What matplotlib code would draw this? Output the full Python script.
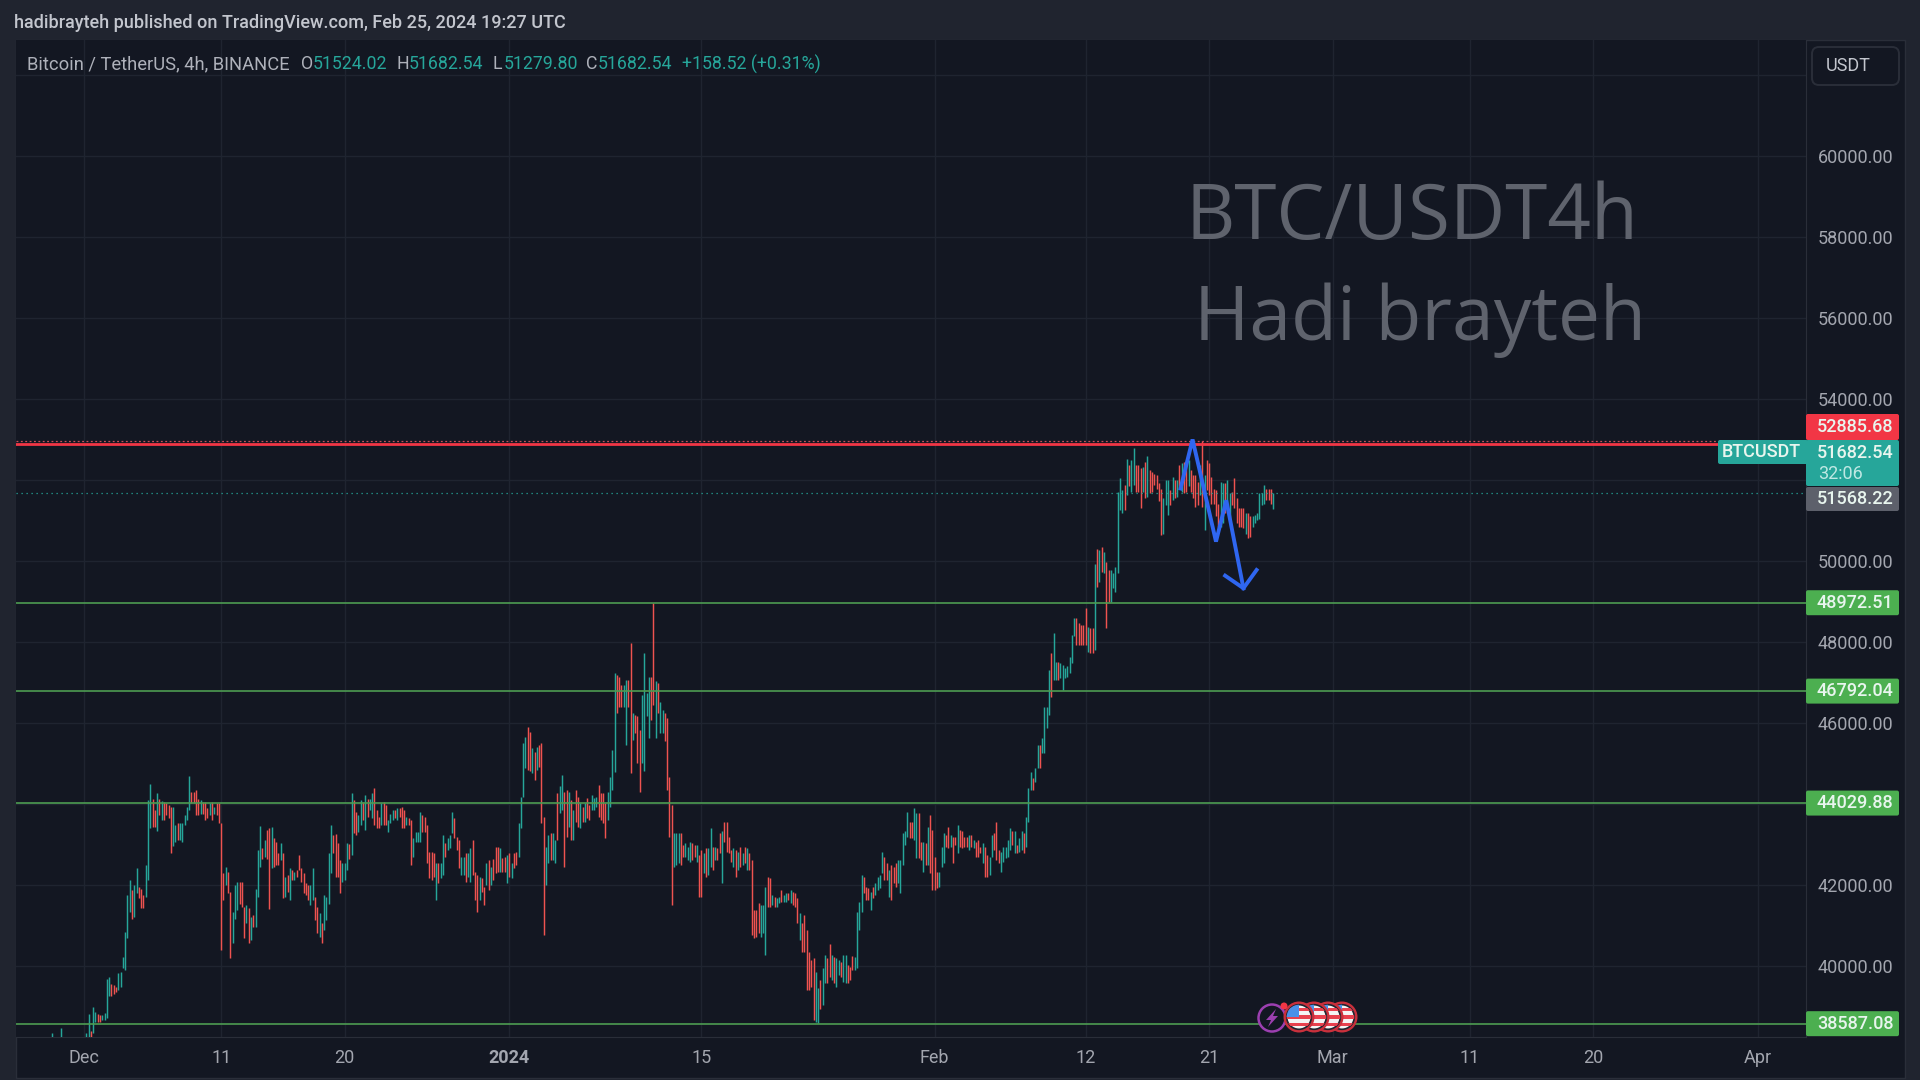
#!/usr/bin/env python3
# plot.py
# BTC/USDT 4h candles with horizontal levels, dark TradingView look
# prices are read off the picture, in thousands, one row per day (6 candles)

import matplotlib
matplotlib.use("Agg")
import matplotlib.pyplot as plt
import matplotlib.patches as mpatches
import numpy as np
import pandas as pd

highs = [
    37.3, 37.5, 37.8, 38.0, 38.36, 38.1,
    38.1, 37.9, 38.47, 38.0, 38.0, 37.9,
    37.8, 37.9, 37.9, 37.8, 38.0, 38.1,
    # Dec
    38.2, 38.35, 38.83, 38.4, 38.99, 38.87,
    38.83, 38.80, 38.80, 38.86, 39.70, 39.73,
    39.56, 39.54, 39.50, 39.83, 39.87, 40.24,
    40.85, 41.76, 42.13, 41.88, 42.00, 42.42,
    41.97, 41.92, 41.76, 42.50, 44.10, 44.50,
    44.12, 43.86, 44.28, 44.14, 44.09, 44.06,
    44.02, 43.98, 43.94, 43.94, 43.49, 43.53,
    43.53, 43.53, 43.73, 43.94, 44.70, 44.31,
    44.31, 44.35, 44.14, 44.10, 44.06, 44.06,
    43.90, 44.02, 44.06, 43.94, 44.02, 44.02,
    43.53, 42.30, 42.46, 42.34, 41.84, 41.35,
    42.01, 42.09, 42.09, 42.09, 41.47, 41.51,
    41.43, 41.23, 41.27, 41.92, 42.87, 43.46,
    42.91, 43.12, 43.36, 43.41, 43.43, 43.16,
    43.08, 42.79, 43.04, 42.79, 42.21, 42.25,
    42.42, 42.38, 42.34, 42.38, 42.75, 42.42,
    42.30, 42.05, 42.01, 42.01, 42.42, 41.72,
    41.47, 41.31, 41.06, 41.76, 41.72, 42.79,
    43.49, 43.24, 43.26, 43.04, 42.62, 42.54,
    42.54, 43.04, 43.02, 44.28, 44.10, 43.82,
    43.73, 44.10, 44.06, 44.23, 44.14, 44.14,
    44.27, 44.39, 43.86, 43.69, 44.02, 44.06,
    43.98, 43.61, 43.77, 43.86, 43.86, 43.90,
    43.90, 43.94, 43.86, 43.69, 43.65, 43.61,
    43.16, 43.32, 43.32, 43.82, 43.73, 43.69,
    43.49, 42.83, 42.83, 42.79, 42.54, 42.54,
    42.54, 43.24, 43.04, 43.16, 43.24, 43.82,
    43.65, 43.20, 43.12, 42.71, 42.71, 42.79,
    42.79, 42.91, 43.12, 42.34, 42.25, 42.21,
    42.17, 41.97, 42.54, 42.62, 42.46, 42.66,
    42.95, 42.95, 42.91, 42.67, 42.71, 42.75,
    # Jan
    42.79, 42.54, 42.79, 42.83, 43.53, 44.19,
    45.50, 45.67, 45.90, 45.79, 45.38, 45.30,
    45.42, 45.46, 45.50, 43.69, 42.95, 43.24,
    43.28, 43.28, 43.12, 44.27, 44.44, 44.72,
    44.31, 44.35, 44.31, 44.11, 43.86, 44.35,
    44.19, 44.02, 43.94, 44.02, 44.15, 43.98,
    44.23, 44.15, 44.19, 44.48, 44.27, 44.27,
    44.02, 44.31, 44.68, 45.34, 47.23, 47.19,
    47.15, 46.94, 46.94, 47.07, 47.07, 47.97,
    46.25, 46.21, 46.17, 45.83, 46.70, 47.72,
    46.74, 47.15, 47.15, 48.96, 47.03, 46.99,
    46.53, 46.33, 46.25, 46.12, 44.68, 43.98,
    43.28, 43.28, 43.28, 43.28, 42.99, 43.04,
    42.95, 43.08, 43.04, 42.99, 42.99, 42.75,
    42.87, 42.79, 42.91, 42.91, 43.41, 42.95,
    42.95, 42.91, 43.28, 43.33, 43.57, 43.57,
    43.20, 42.87, 42.91, 42.87, 42.83, 42.95,
    42.79, 42.95, 42.91, 42.79, 42.63, 41.39,
    41.39, 41.56, 41.52, 41.52, 41.97, 42.21,
    42.17, 41.76, 41.72, 41.68, 41.72, 41.88,
    41.76, 41.80, 41.80, 41.88, 41.84, 41.80,
    41.68, 41.31, 41.06, 41.27, 40.90, 40.36,
    40.16, 40.20, 39.87, 39.46, 39.66, 39.95,
    40.28, 40.20, 40.55, 40.28, 40.24, 40.20,
    40.16, 40.12, 40.28, 40.28, 40.03, 39.99,
    40.26, 40.24, 41.35, 41.60, 42.25, 42.21,
    41.97, 41.93, 41.84, 41.97, 42.05, 42.21,
    42.25, 42.83, 42.71, 42.54, 42.38, 42.50,
    42.46, 42.54, 42.63, 42.63, 43.28, 43.33,
    43.80, 43.57, 43.57, 43.90, 43.78, 43.78,
    43.08, 43.08, 43.04, 43.45, 43.73, 43.37,
    # Feb
    42.71, 42.34, 42.34, 42.95, 43.28, 43.24,
    43.45, 43.24, 43.20, 43.20, 43.49, 43.37,
    43.33, 43.20, 43.20, 43.24, 43.24, 43.12,
    43.08, 43.12, 42.95, 43.04, 42.95, 42.75,
    42.71, 43.24, 43.28, 43.57, 42.87, 42.83,
    42.95, 42.95, 43.12, 43.41, 43.33, 43.33,
    43.00, 43.16, 43.33, 43.28, 43.69, 44.39,
    44.80, 44.64, 44.89, 45.46, 45.46, 45.63,
    46.41, 46.41, 47.31, 47.72, 48.22, 47.52,
    47.52, 47.48, 47.44, 47.35, 47.40, 47.64,
    48.18, 48.59, 48.59, 48.46, 48.42, 48.42,
    48.83, 48.38, 48.34, 48.34, 49.94, 50.31,
    50.27, 50.35, 50.23, 49.98, 49.78, 49.78,
    49.70, 49.86, 51.71, 52.04, 51.75, 51.88,
    52.51, 52.37, 52.49, 52.80, 52.37, 52.37,
    52.29, 52.33, 52.45, 52.58, 52.25, 52.20,
    52.16, 52.12, 51.92, 51.79, 51.55, 52.00,
    52.00, 51.75, 52.08, 52.00, 52.00, 52.37,
    52.41, 52.45, 52.45, 52.49, 52.25, 52.12,
    52.12, 51.96, 52.37, 52.97, 52.12, 52.49,
    52.41, 52.08, 51.79, 51.75, 51.42, 51.96,
    51.92, 51.92, 52.00, 51.67, 51.71, 52.04,
    51.55, 51.30, 51.30, 51.30, 51.18, 51.18,
    51.10, 51.10, 51.14, 51.18, 51.67, 51.67,
    51.88, 51.79, 51.79, 51.79, 51.68,
]

lows = [
    37.0, 37.2, 37.4, 37.6, 37.8, 37.7,
    37.7, 37.6, 37.7, 37.6, 37.5, 37.5,
    37.5, 37.5, 37.6, 37.5, 37.6, 37.7,
    # Dec
    37.9, 37.9, 38.2, 38.1, 38.35, 38.63,
    38.64, 38.64, 38.68, 38.68, 38.72, 39.27,
    39.27, 39.33, 39.37, 39.41, 39.50, 39.95,
    39.91, 40.69, 41.35, 41.16, 41.23, 41.80,
    41.68, 41.43, 41.43, 41.72, 42.13, 43.41,
    43.45, 43.45, 43.35, 43.73, 43.61, 43.61,
    43.73, 43.65, 42.80, 42.97, 43.08, 43.12,
    43.12, 43.08, 43.49, 43.61, 43.86, 44.02,
    44.02, 43.73, 43.73, 43.77, 43.77, 43.61,
    43.65, 43.73, 43.61, 43.77, 43.73, 43.53,
    40.40, 41.64, 42.01, 41.80, 40.20, 40.57,
    41.18, 41.39, 41.55, 41.47, 40.69, 41.06,
    40.57, 40.65, 40.98, 40.98, 41.72, 42.46,
    42.66, 42.71, 42.66, 41.41, 42.42, 42.46,
    42.50, 42.50, 42.62, 41.68, 41.72, 41.84,
    41.64, 42.13, 42.13, 42.21, 42.38, 42.09,
    41.80, 41.76, 41.64, 41.51, 41.64, 41.14,
    40.82, 40.73, 40.57, 40.90, 41.14, 41.55,
    42.30, 42.79, 42.21, 42.21, 41.80, 42.09,
    42.13, 42.38, 42.66, 42.75, 43.28, 43.24,
    43.32, 43.49, 43.61, 43.36, 43.69, 43.86,
    43.65, 43.49, 43.41, 43.41, 43.49, 43.49,
    43.49, 43.32, 43.53, 43.61, 43.65, 43.61,
    43.69, 43.41, 43.41, 43.49, 43.49, 42.50,
    42.71, 43.08, 43.08, 43.08, 43.32, 43.32,
    42.54, 42.17, 42.13, 42.21, 41.64, 42.05,
    42.17, 42.25, 42.71, 42.87, 42.91, 43.28,
    43.16, 42.87, 42.42, 42.25, 42.25, 42.09,
    42.21, 42.09, 42.25, 41.64, 41.35, 41.64,
    41.84, 41.51, 42.01, 41.88, 42.01, 42.13,
    42.30, 42.34, 42.34, 42.34, 42.34, 42.05,
    # Jan
    42.21, 42.17, 42.42, 42.50, 42.71, 43.41,
    44.19, 44.89, 44.85, 44.81, 44.78, 44.60,
    44.85, 44.93, 43.53, 40.78, 42.01, 42.54,
    42.63, 42.63, 42.54, 43.12, 43.78, 43.86,
    42.46, 43.20, 43.45, 43.12, 43.12, 43.57,
    43.45, 43.41, 43.57, 43.57, 43.65, 43.61,
    43.86, 43.86, 43.94, 43.69, 43.61, 43.53,
    43.16, 43.61, 43.94, 44.35, 44.80, 46.25,
    46.41, 46.41, 46.41, 45.46, 46.41, 44.76,
    45.59, 45.75, 45.01, 44.31, 45.01, 44.81,
    46.17, 45.63, 46.08, 46.45, 45.63, 46.25,
    45.75, 45.75, 45.55, 44.35, 43.20, 41.52,
    42.46, 42.50, 42.54, 42.50, 42.71, 42.71,
    42.63, 42.58, 42.63, 42.71, 42.58, 41.72,
    41.72, 42.30, 42.21, 42.25, 42.46, 42.38,
    42.63, 42.63, 42.79, 42.05, 43.08, 42.83,
    42.79, 42.58, 42.46, 42.21, 42.38, 42.46,
    42.50, 42.54, 42.38, 42.38, 40.78, 40.70,
    40.73, 40.82, 40.73, 40.82, 40.28, 41.47,
    41.47, 41.52, 41.47, 41.47, 41.56, 41.60,
    41.60, 41.60, 41.64, 41.56, 41.52, 41.47,
    41.06, 40.65, 40.36, 40.36, 39.42, 39.42,
    39.50, 38.68, 38.64, 38.60, 38.96, 39.05,
    39.58, 39.58, 39.74, 39.66, 39.58, 39.50,
    39.79, 39.74, 39.62, 39.58, 39.58, 39.66,
    39.91, 39.91, 39.95, 40.90, 41.35, 41.80,
    41.64, 41.64, 41.39, 41.68, 41.76, 41.88,
    41.93, 42.30, 42.13, 42.13, 41.72, 41.64,
    42.05, 41.97, 42.05, 41.81, 42.50, 43.00,
    43.20, 43.16, 43.16, 43.12, 42.67, 42.67,
    42.63, 42.34, 42.50, 42.50, 42.30, 41.89,
    # Feb
    41.89, 41.93, 41.97, 42.46, 42.54, 42.95,
    42.91, 42.95, 42.54, 43.00, 42.79, 42.95,
    42.91, 42.95, 42.95, 42.87, 42.95, 42.91,
    42.71, 42.71, 42.79, 42.54, 42.21, 42.21,
    42.25, 42.71, 42.87, 42.63, 42.54, 42.34,
    42.58, 42.67, 42.71, 42.87, 43.00, 42.79,
    42.79, 42.83, 42.87, 42.79, 42.95, 43.57,
    44.35, 44.35, 44.56, 44.89, 44.89, 45.26,
    45.26, 45.87, 46.20, 46.65, 47.07, 47.07,
    47.07, 47.11, 46.82, 47.11, 47.15, 47.23,
    47.48, 48.14, 47.93, 47.93, 47.93, 47.93,
    47.93, 47.76, 47.72, 47.72, 47.81, 49.37,
    49.49, 49.74, 49.70, 48.34, 49.00, 49.00,
    49.33, 49.24, 49.70, 51.26, 51.18, 51.26,
    51.63, 51.84, 51.71, 51.88, 51.71, 51.71,
    51.30, 51.71, 51.55, 51.59, 51.67, 51.71,
    51.88, 51.79, 51.47, 50.64, 50.68, 51.38,
    51.14, 51.38, 51.51, 51.55, 51.59, 51.79,
    51.71, 51.67, 51.71, 51.84, 51.71, 51.55,
    51.34, 51.38, 51.63, 51.34, 50.77, 51.75,
    51.63, 51.42, 51.42, 51.10, 50.85, 50.85,
    50.93, 51.18, 51.26, 50.97, 51.38, 51.30,
    50.93, 50.85, 50.85, 50.81, 50.68, 50.56,
    50.60, 50.85, 50.93, 51.01, 51.05, 51.38,
    51.42, 51.51, 51.51, 51.42, 51.28,
]

# u = teal candle, d = red candle
moves = (
    "uuuuuu" "uduuud" "uuduuu"
    "uuuduu" "dduuuu" "ddduuu" "uuuduu" "ddduuu" "ddudud" "ddduud"
    "uuuuud" "dddudd" "dududd" "dduddu" "uudddu" "duduuu" "duddud"
    "ddudud" "ududdd" "ddduud" "duduuu" "uddddu" "uududd" "uududu"
    "udddud" "duuudu" "dddudd" "uuuudd" "ddddud" "uuduuu" "ddduud"
    "uudddu" "ddudud" "dduddu"
    "dudduu" "uuddud" "uddduu" "duuduu" "ddudud" "dududd" "uuuddd"
    "duuuud" "dduudd" "uddduu" "uuddud" "uudddd" "uuuddu" "uuddud"
    "duduud" "uddudd" "ddudud" "ududdd" "dduuud" "duduud" "uududd"
    "dudddd" "dduudu" "uddudu" "uduudd" "duuuud" "dduduu" "uuddud"
    "dduuuu" "udduud" "dududd"
    "dduuud" "duddud" "dddudu" "dddudd" "uudddu" "uuuudu" "duuduu"
    "uduudu" "uuuduu" "duuuuu" "uudddd" "duddud" "ududdu" "uuuuud"
    "uduudd" "dududd" "dddduu" "ududud" "uddudd" "ddudud" "dddddu"
    "uduudd" "ddddud" "duuuuu" "udddu"
)

# horizontal levels drawn on the chart
level_prices = [48972.51, 46792.04, 44029.88, 38587.08]
level_labels = ["48972.51", "46792.04", "44029.88", "38587.08"]
red_level = 52885.68
high_dots = 52969
last_price = 51682.54

tick_prices = list(range(38000, 64000, 2000))
hidden_prices = [38000, 52000, 62000]

tick_dates = ["2023-12-01", "2023-12-11", "2023-12-20", "2024-01-01", "2024-01-15", "2024-02-01",
              "2024-02-12", "2024-02-21", "2024-03-01", "2024-03-11", "2024-03-20", "2024-04-01"]
tick_names = ["Dec", "11", "20", "2024", "15", "Feb", "12", "21", "Mar", "11", "20", "Apr"]

# the hand drawn blue arrow
arrow_dates = ["2024-02-18 22:00", "2024-02-19 19:00", "2024-02-21 12:00", "2024-02-22 06:00", "2024-02-23 12:00"]
arrow_prices = [51790, 53000, 50480, 51500, 49330]
head_dates = ["2024-02-22 04:00", "2024-02-23 12:00", "2024-02-24 11:00"]
head_prices = [49640, 49330, 49780]

UP = "#26a69a"
DOWN = "#ef5350"
GREEN = "#4caf50"
BG = "#131722"
OUTER = "#20242f"
GRID = "#1f2430"
EDGE = "#2a2e39"
TXT = "#a3a6af"

plt.rcParams['font.family'] = ['Roboto', 'DejaVu Sans']


def draw_flag(top, cx, cy, r, z):
    ring = mpatches.Circle((cx, cy), r, facecolor="#c9303c", edgecolor="none", zorder=z)
    top.add_patch(ring)
    clip = mpatches.Circle((cx, cy), r - 3.2, facecolor="#f4f4f4", edgecolor="#20242f", lw=1.2, zorder=z + 0.1)
    top.add_patch(clip)
    for i in range(3):
        s = mpatches.Rectangle((cx - r, cy - r + 6 + i * 7.5), 2 * r, 3.8, facecolor="#e8414e", edgecolor="none", zorder=z + 0.2)
        top.add_patch(s)
        s.set_clip_path(clip)
    canton = mpatches.Rectangle((cx - r, cy - r), r, r - 0.5, facecolor="#4a90e8", edgecolor="none", zorder=z + 0.3)
    top.add_patch(canton)
    canton.set_clip_path(clip)


def main():
    times = pd.date_range("2023-11-28", periods=len(highs), freq="4h")
    colors = [UP if m == "u" else DOWN for m in moves]

    fig = plt.figure(figsize=(19.2, 10.8), dpi=100, facecolor=OUTER)

    # back layer, panel background
    back = fig.add_axes([0, 0, 1, 1], zorder=0)
    back.set_xlim(0, 1920)
    back.set_ylim(1080, 0)
    back.axis("off")
    back.add_patch(mpatches.Rectangle((16, 40), 1889, 1038, facecolor=BG, edgecolor=EDGE, lw=1))

    # main chart, x 16..1806 y 40..1036.7
    ax = fig.add_axes([16 / 1920, (1080 - 1036.7) / 1080, 1790 / 1920, 996.7 / 1080], zorder=1)
    ax.set_facecolor(BG)
    for name, sp in ax.spines.items():
        sp.set_color(EDGE)
        sp.set_visible(name in ("right", "bottom"))

    ax.set_yticks(tick_prices)
    ax.set_yticklabels(["" if p in hidden_prices else f"{p}.00" for p in tick_prices])
    ax.yaxis.tick_right()
    ax.set_xticks(pd.to_datetime(tick_dates))
    ax.set_xticklabels(tick_names)
    ax.tick_params(axis="y", length=0, labelsize=13, labelcolor=TXT, pad=8.5)
    ax.tick_params(axis="x", length=0, labelsize=13, labelcolor=TXT, pad=9)
    ax.get_xticklabels()[3].set_fontweight("bold")
    ax.grid(True, color=GRID, lw=1)
    ax.set_axisbelow(True)

    ax.vlines(times, np.array(lows) * 1000, np.array(highs) * 1000, colors=colors, linewidth=1.05, zorder=3)

    ax.plot(pd.to_datetime(arrow_dates), arrow_prices, color="#2f66f0", lw=2.8, zorder=6, solid_joinstyle="miter")
    ax.plot(pd.to_datetime(head_dates), head_prices, color="#2f66f0", lw=2.8, zorder=6, solid_joinstyle="miter")

    for p in level_prices:
        ax.axhline(p, color="#4d9c52", lw=1.2, zorder=4)
    ax.axhline(red_level, color="#f23645", lw=2.0, zorder=4)
    ax.axhline(high_dots, color="#c8505a", lw=0.9, ls=(0, (1.5, 2)), zorder=4)
    ax.axhline(last_price, color=UP, lw=0.9, ls=(0, (1, 3)), zorder=4)

    # limits last, the ticks would stretch them
    ax.set_xlim(pd.Timestamp("2023-12-01") - pd.Timedelta(days=4.956), pd.Timestamp("2023-12-01") + pd.Timedelta(days=125.5))
    ax.set_ylim(38266, 62855)

    # top layer, price tags and text
    top = fig.add_axes([0, 0, 1, 1], zorder=2)
    top.set_xlim(0, 1920)
    top.set_ylim(1080, 0)
    top.axis("off")
    top.patch.set_alpha(0)

    def tag(y0, y1, color, text, y=None, x0=1806, x1=1899, tx=1855):
        top.add_patch(mpatches.FancyBboxPatch((x0, y0), x1 - x0, y1 - y0, boxstyle="round,pad=0,rounding_size=2",
                                              facecolor=color, edgecolor="none"))
        if text:
            top.text(tx, (y0 + y1) / 2 if y is None else y, text, color="#e8f5ee", fontsize=13,
                     ha="center", va="center", fontweight="medium")

    tag(414, 440, "#f23645", "52885.68")
    tag(440, 486, "#26a69a", "51682.54", y=453)
    top.text(1818, 474, "32:06", color="#bfe8e3", fontsize=13, ha="left", va="center")
    tag(440, 464, "#26a69a", "BTCUSDT", x0=1718, x1=1808, tx=1761)
    tag(487, 511, "#5d606b", "51568.22")
    for p, s in zip(level_prices, level_labels):
        yc = 1080 - ax.transData.transform((ax.get_xlim()[0], p))[1]
        tag(yc - 12.5, yc + 12.5, GREEN, s)

    # USDT button
    top.add_patch(mpatches.FancyBboxPatch((1812, 47), 87, 38, boxstyle="round,pad=0,rounding_size=7",
                                          facecolor=BG, edgecolor=EDGE, lw=1.4))
    top.text(1826, 66, "USDT", color="#c3c6ce", fontsize=13, va="center", ha="left")

    # header and legend
    top.text(14, 23, "hadibrayteh published on TradingView.com, Feb 25, 2024 19:27 UTC",
             color="#c3c6ce", fontsize=13, va="center", ha="left", fontweight="medium")
    legend_y = 64
    top.text(27, legend_y, "Bitcoin / TetherUS, 4h, BINANCE", color="#aeb1ba", fontsize=13.2, va="center")
    for x, s, c in [(301, "O", "#aeb1ba"), (313, "51524.02", UP), (397, "H", "#aeb1ba"), (409, "51682.54", UP),
                    (493, "L", "#aeb1ba"), (504, "51279.80", UP), (586, "C", "#aeb1ba"), (598, "51682.54", UP),
                    (682, "+158.52 (+0.31%)", UP)]:
        top.text(x, legend_y, s, color=c, fontsize=12.8, va="center")

    # watermark
    top.text(1412, 219, "BTC/USDT4h", color="#5f636d", fontsize=55, ha="center", va="center", family="Open Sans")
    top.text(1420, 320, "Hadi brayteh", color="#5f636d", fontsize=54, ha="center", va="center", family="Open Sans")

    # events at the bottom
    top.add_patch(mpatches.Circle((1272, 1018), 13.5, facecolor=BG, edgecolor="#9c3fb0", lw=1.8))
    top.add_patch(mpatches.Polygon([(1276, 1009), (1266, 1020), (1271, 1020), (1268, 1027), (1278, 1016), (1273, 1016)],
                                   facecolor="#9c3fb0", edgecolor="none"))
    for i, cx in enumerate([1342, 1328, 1314, 1299]):
        draw_flag(top, cx, 1017, 15.5, 5 + i)
    top.add_patch(mpatches.Circle((1284, 1006), 3.5, facecolor="#f23645", edgecolor="none", zorder=10))

    fig.savefig("out.png", dpi=100, facecolor=fig.get_facecolor())


if __name__ == "__main__":
    main()
